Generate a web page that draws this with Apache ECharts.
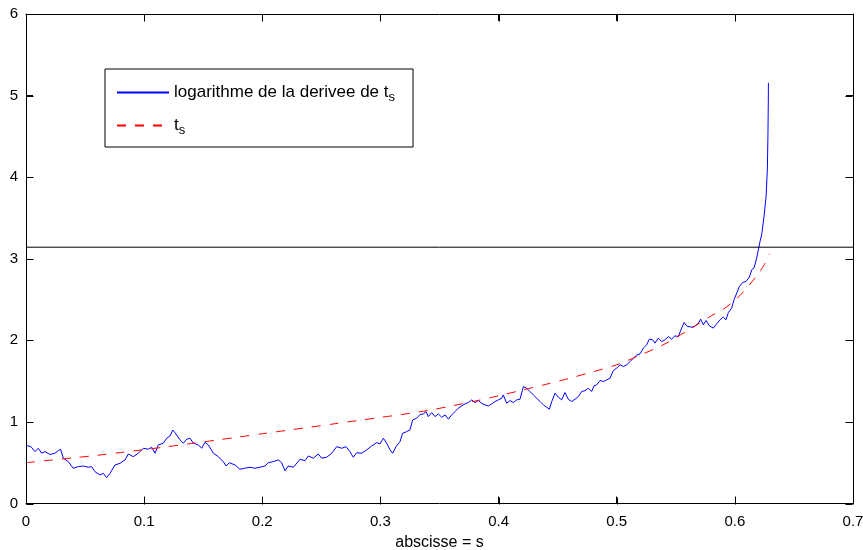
<!DOCTYPE html>
<html>
<head>
<meta charset="utf-8">
<script src="https://cdn.jsdelivr.net/npm/echarts@6/dist/echarts.min.js"></script>
<style>html,body{margin:0;padding:0;background:#fff}#c{width:863px;height:550px}</style>
</head>
<body>
<div id="c"></div>
<script>
// abscissa values for the blue curve (logarithme de la derivee de t_s)
var sBlue = [0.000,0.004,0.0076,0.0104,0.0133,0.016,0.0203,0.0245,0.0273,0.0293,0.0316,0.0358,0.040,0.0443,0.0485,0.0527,0.0556,0.0584,0.0626,0.0655,0.0683,0.0711,0.0753,0.0796,0.0838,0.0866,0.0908,0.0951,0.0993,0.1035,0.1064,0.1092,0.112,0.1162,0.1191,0.1219,0.1242,0.1261,0.1275,0.1304,0.1332,0.136,0.1388,0.1417,0.1459,0.1487,0.1515,0.1543,0.1586,0.1628,0.167,0.1693,0.1721,0.177,0.181,0.185,0.1896,0.1938,0.198,0.2023,0.205,0.2093,0.2136,0.2164,0.2192,0.222,0.2263,0.232,0.2362,0.239,0.2432,0.2474,0.2503,0.2545,0.2588,0.263,0.2672,0.2709,0.2742,0.277,0.2799,0.2841,0.2884,0.2926,0.2969,0.2996,0.3025,0.3053,0.3081,0.3104,0.3132,0.3166,0.3188,0.3222,0.325,0.3273,0.3307,0.3335,0.3363,0.3386,0.3405,0.3434,0.3462,0.349,0.3519,0.3547,0.3575,0.3603,0.3631,0.3659,0.3688,0.3716,0.3744,0.3773,0.3801,0.3829,0.3857,0.3885,0.3913,0.3942,0.397,0.3998,0.4027,0.404,0.4069,0.4097,0.4125,0.4154,0.4181,0.421,0.4238,0.4266,0.4294,0.4323,0.4351,0.4379,0.4407,0.443,0.445,0.4478,0.4506,0.4534,0.4562,0.459,0.4619,0.4647,0.4675,0.4703,0.4732,0.476,0.4788,0.4808,0.483,0.4859,0.4887,0.4915,0.4943,0.4971,0.5,0.5028,0.5056,0.5085,0.5113,0.514,0.517,0.5197,0.5225,0.5254,0.5276,0.5304,0.5324,0.5352,0.538,0.5409,0.5437,0.5465,0.5493,0.5521,0.555,0.557,0.5598,0.5635,0.5663,0.5691,0.5711,0.5733,0.5756,0.5784,0.5818,0.5846,0.5874,0.5902,0.5925,0.5945,0.5973,0.5993,0.6016,0.6038,0.6066,0.6094,0.6123,0.6143,0.6162,0.6185,0.6199,0.6213,0.6227,0.6247,0.6264,0.6275,0.628,0.6283,0.6284];
var logDeriv = [0.71,0.70,0.636,0.677,0.616,0.636,0.60,0.616,0.648,0.665,0.555,0.513,0.432,0.452,0.46,0.444,0.452,0.39,0.35,0.37,0.317,0.37,0.472,0.493,0.534,0.607,0.574,0.616,0.677,0.665,0.69,0.616,0.718,0.739,0.80,0.828,0.90,0.869,0.893,0.779,0.739,0.788,0.80,0.739,0.718,0.677,0.751,0.718,0.616,0.574,0.513,0.46,0.50,0.472,0.42,0.432,0.444,0.432,0.444,0.46,0.50,0.513,0.534,0.50,0.402,0.46,0.444,0.542,0.525,0.583,0.555,0.607,0.555,0.567,0.616,0.697,0.677,0.697,0.636,0.567,0.623,0.616,0.657,0.706,0.746,0.73,0.80,0.739,0.657,0.616,0.697,0.758,0.861,0.881,0.902,1.025,1.045,1.09,1.098,1.127,1.065,1.114,1.065,1.098,1.057,1.086,1.033,1.086,1.127,1.168,1.196,1.221,1.237,1.27,1.237,1.262,1.229,1.209,1.196,1.221,1.25,1.27,1.29,1.331,1.229,1.262,1.237,1.27,1.278,1.433,1.413,1.372,1.331,1.29,1.25,1.209,1.18,1.156,1.25,1.352,1.303,1.27,1.36,1.278,1.25,1.278,1.31,1.372,1.384,1.413,1.372,1.442,1.454,1.507,1.495,1.515,1.536,1.629,1.66,1.70,1.679,1.70,1.74,1.78,1.82,1.834,1.904,1.945,2.015,2.006,1.966,2.027,1.985,2.006,2.047,2.015,2.055,2.047,2.15,2.218,2.17,2.162,2.17,2.211,2.26,2.19,2.243,2.178,2.15,2.202,2.252,2.285,2.252,2.341,2.395,2.497,2.579,2.66,2.709,2.721,2.775,2.865,2.886,3.009,3.11,3.212,3.294,3.52,3.76,4.09,4.50,4.91,5.156];
// red dashed curve t_s
var sRed = [0.00,0.02,0.04,0.06,0.08,0.10,0.12,0.14,0.16,0.18,0.20,0.22,0.24,0.26,0.28,0.30,0.32,0.34,0.36,0.38,0.40,0.42,0.44,0.46,0.48,0.50,0.52,0.54,0.56,0.58,0.59,0.60,0.61,0.62,0.625,0.629];
var tS = [0.500,0.530,0.560,0.590,0.625,0.660,0.697,0.735,0.775,0.815,0.855,0.895,0.935,0.975,1.015,1.055,1.095,1.140,1.195,1.255,1.320,1.390,1.460,1.535,1.615,1.700,1.820,1.950,2.120,2.300,2.380,2.490,2.640,2.820,2.930,3.060];
// horizontal reference line at pi
var sRef = [0, 0.7];
var refLevel = [3.1416, 3.1416];
// tick values
var xTickVals = [0, 0.1, 0.2, 0.3, 0.4, 0.5, 0.6, 0.7];
var yTickVals = [0, 1, 2, 3, 4, 5, 6];
var xTicks = {min: 0, max: 0.7, interval: 0.1};
var yTicks = {min: 0, max: 6, interval: 1};

function zip(a, b) { return a.map(function (v, i) { return [v, b[i]]; }); }

var FONT = "'Liberation Sans', Arial, Helvetica, sans-serif";
var W = 863, H = 550;
var G = {left: 26, right: 10, top: 14, bottom: 46.5};
var chart = echarts.init(document.getElementById('c'));
function axLine() { return {show: true, onZero: false, lineStyle: {color: '#000', width: 1}}; }
function axTick() { return {show: true, inside: true, length: 7, lineStyle: {color: '#000', width: 1}}; }
function hiddenSymbol() { return {color: 'rgba(0,0,0,0)', borderColor: 'rgba(0,0,0,0)', borderWidth: 0, opacity: 0}; }
chart.setOption({
  animation: false,
  grid: {left: G.left, right: G.right, top: G.top, bottom: G.bottom, outerBoundsMode: 'none'},
  legend: {
    orient: 'vertical', left: 105, top: 69,
    padding: [15, 18, 10, 11],
    itemGap: 13, itemWidth: 52, itemHeight: 14,
    borderColor: '#000', borderWidth: 1, backgroundColor: '#fff',
    selectedMode: false,
    itemStyle: hiddenSymbol(),
    textStyle: {fontFamily: FONT, fontSize: 17, color: '#000',
      rich: {sub: {fontFamily: FONT, fontSize: 13, color: '#000', padding: [10, 0, 0, 0]}}},
    formatter: function (name) {
      return name === 'blue' ? 'logarithme de la derivee de t{sub|s}' : 't{sub|s}';
    },
    data: [{name: 'blue', itemStyle: hiddenSymbol()}, {name: 'red', itemStyle: hiddenSymbol()}]
  },
  xAxis: [
    {type: 'value', min: xTicks.min, max: xTicks.max, interval: xTicks.interval, z: 10,
     axisLine: axLine(), axisTick: axTick(), splitLine: {show: false},
     axisLabel: {margin: 11, color: '#000', fontFamily: FONT, fontSize: 15},
     name: 'abscisse = s', nameLocation: 'middle', nameGap: 31,
     nameTextStyle: {fontFamily: FONT, fontSize: 16, color: '#000'}},
    {type: 'value', min: xTicks.min, max: xTicks.max, interval: xTicks.interval, position: 'top', z: 10,
     axisLine: axLine(), axisTick: axTick(), splitLine: {show: false}, axisLabel: {show: false}}
  ],
  yAxis: [
    {type: 'value', min: yTicks.min, max: yTicks.max, interval: yTicks.interval, z: 10,
     axisLine: axLine(), axisTick: axTick(), splitLine: {show: false},
     axisLabel: {margin: 8, color: '#000', fontFamily: FONT, fontSize: 15}},
    {type: 'value', min: yTicks.min, max: yTicks.max, interval: yTicks.interval, position: 'right', z: 10,
     axisLine: axLine(), axisTick: axTick(), splitLine: {show: false}, axisLabel: {show: false}}
  ],
  series: [
    {name: 'blue', type: 'line', data: zip(sBlue, logDeriv), symbol: 'none', showSymbol: false,
     lineStyle: {color: '#0000ff', width: 1}, itemStyle: {color: '#0000ff'}, z: 3},
    {name: 'red', type: 'line', data: zip(sRed, tS), symbol: 'none', showSymbol: false, smooth: 0.3,
     lineStyle: {color: '#ff0000', width: 1, type: [9, 9]}, itemStyle: {color: '#ff0000'}, z: 4},
    {name: 'ref', type: 'line', data: zip(sRef, refLevel), symbol: 'none', showSymbol: false,
     lineStyle: {color: '#000', width: 1}, z: 5}
  ]
});

// Box tick marks (MATLAB style, pointing inward on all four sides)
function toPx(x, y) {
  var p = null;
  try { p = chart.convertToPixel({xAxisIndex: 0, yAxisIndex: 0}, [x, y]); } catch (e) { p = null; }
  if (!p || !isFinite(p[0]) || !isFinite(p[1])) {
    var pw = W - G.left - G.right, ph = H - G.top - G.bottom;
    p = [G.left + (x - xTicks.min) / (xTicks.max - xTicks.min) * pw,
         G.top + ph - (y - yTicks.min) / (yTicks.max - yTicks.min) * ph];
  }
  return p;
}
var TL = 7;
var lo = toPx(xTicks.min, yTicks.min);
var hi = toPx(xTicks.max, yTicks.max);
var bottomY = Math.round(lo[1]) + 0.5, topY = Math.round(hi[1]) + 0.5;
var leftX = Math.round(lo[0]) + 0.5, rightX = Math.round(hi[0]) - 0.5;
var tickEls = [];
function tickLine(x1, y1, x2, y2) {
  return {type: 'line', silent: true, z: 100,
    shape: {x1: x1, y1: y1, x2: x2, y2: y2},
    style: {stroke: '#000', lineWidth: 1}};
}
xTickVals.forEach(function (v) {
  var x = Math.round(toPx(v, yTicks.min)[0]) + 0.5;
  tickEls.push(tickLine(x, bottomY, x, bottomY - TL));
  tickEls.push(tickLine(x, topY, x, topY + TL));
});
yTickVals.forEach(function (v) {
  var y = Math.round(toPx(xTicks.min, v)[1]) + 0.5;
  tickEls.push(tickLine(leftX, y, leftX + TL, y));
  tickEls.push(tickLine(rightX, y, rightX - TL, y));
});
chart.setOption({graphic: tickEls});
</script>
</body>
</html>
